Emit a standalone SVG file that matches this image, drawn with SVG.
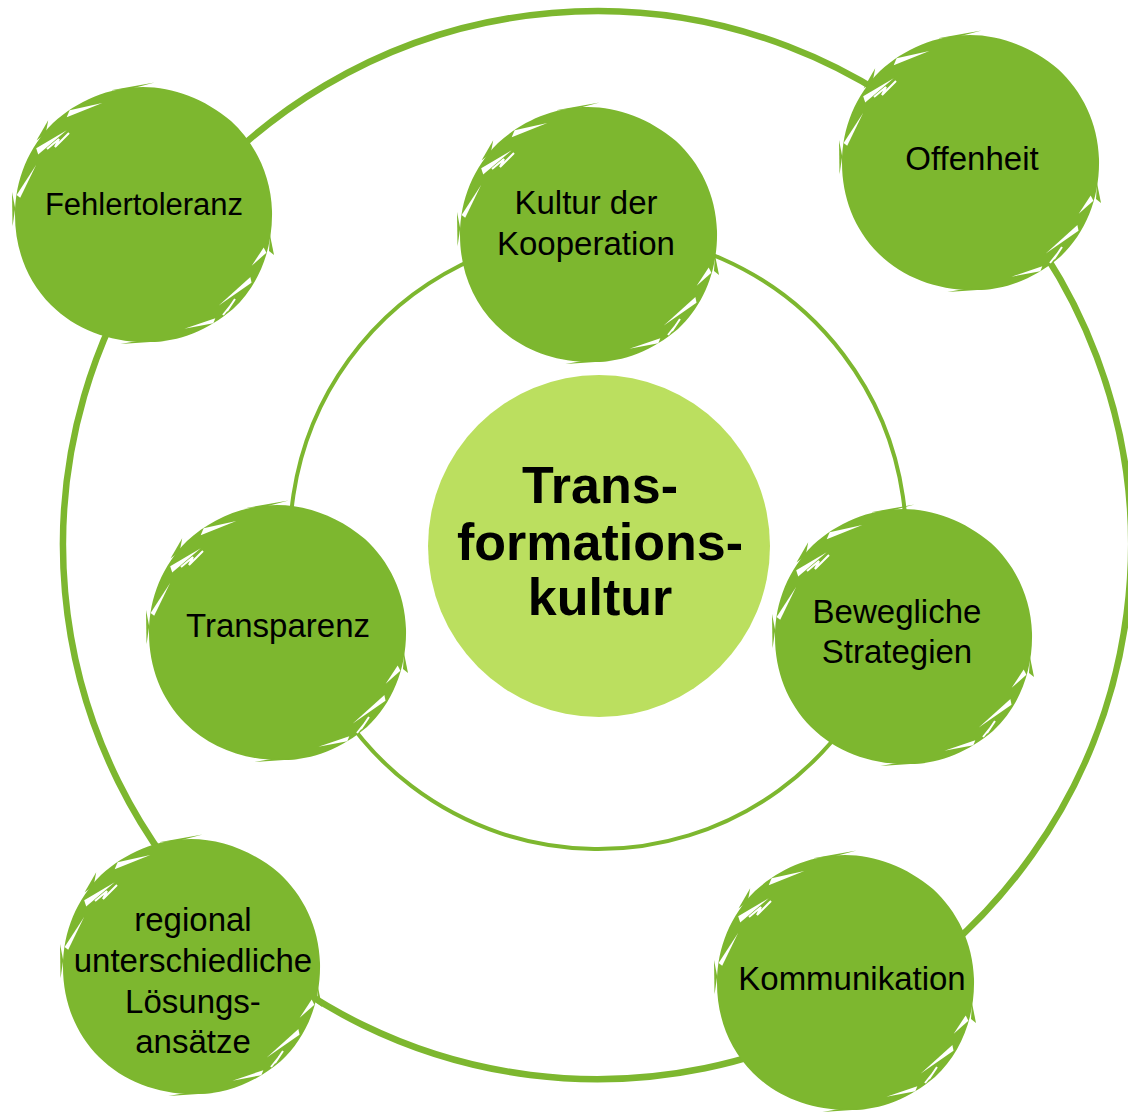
<svg xmlns="http://www.w3.org/2000/svg" xmlns:xlink="http://www.w3.org/1999/xlink" width="1128" height="1115" viewBox="0 0 1128 1115">
<style>
.outer{fill:none;stroke:#7db72f;stroke-width:6.5}
.inner{fill:none;stroke:#7db72f;stroke-width:4}
.lbl{font-family:"Liberation Sans",Arial,sans-serif;font-size:33px;fill:#000;text-anchor:middle}
.core{font-family:"Liberation Sans",Arial,sans-serif;font-size:52px;font-weight:bold;fill:#000;text-anchor:middle}
.g{fill:#7db72f}
.w{fill:#fff}
</style>
<defs>
<g id="blob">
<path class="g" d="M0,-128 C30,-128 62,-116 88,-94 C112,-72 128,-40 129,-4 C130,34 116,70 90,94 C64,116 34,128 2,127 C-34,127 -68,114 -92,90 C-116,66 -128,34 -128,0 C-128,-36 -114,-68 -90,-92 C-66,-114 -34,-128 0,-128 Z"/>
<polygon class="g" points="-130.5,11.4 -131,-23.1 -127.8,-6.7"/>
<polygon class="g" points="-106.5,-74.6 -94.8,-94.8 -97.3,-81.6"/>
<polygon class="g" points="-33.4,-124.6 11.6,-132.5 -11.1,-126.5"/>
<polygon class="g" points="22.2,126 -22.7,129 0,125"/>
<polygon class="g" points="127,20 131,40 126,36"/>
<polygon class="w" points="-122.8,-17.3 -106.9,-49.9 -126.4,-20"/>
<polygon class="w" points="-104.8,-60.5 -76.3,-84.7 -106.8,-66.8"/>
<polygon class="w" points="-76.3,-97.7 -40.7,-111.9 -73.4,-104.8"/>
<polyline points="-96,-66 -84,-76 -88,-68 -74,-82" fill="none" stroke="#fff" stroke-width="2"/>
<polygon class="w" points="107.4,62 75.8,90.4 108.5,67.8"/>
<polygon class="w" points="72.3,103.2 41.4,113.7 70.3,108.2"/>
<polygon class="w" points="120.7,32.4 108.7,50.8 123.4,37.7"/>
<polyline points="92,84 84,96 88,90 80,100" fill="none" stroke="#fff" stroke-width="2"/>
</g>
</defs>
<rect width="1128" height="1115" fill="#fff"/>
<g id="connectors">
<path class="outer" d="M165,231 A534,534 0 0 1 970,163"/>
<path class="outer" d="M970,163 A534,534 0 0 1 860,1010"/>
<path class="outer" d="M860,1010 A534,534 0 0 1 227,930"/>
<path class="outer" d="M227,930 A534,534 0 0 1 165,231"/>
<path class="inner" d="M588,233 A308,308 0 0 1 892,633"/>
<path class="inner" d="M892,633 A308,308 0 0 1 302,626"/>
<path class="inner" d="M302,626 A308,308 0 0 1 588,233"/>
</g>
<g id="center">
<circle cx="599" cy="546" r="171" fill="#bbdf5f"/>
<text class="core" x="600" y="503">Trans-</text>
<text class="core" x="600" y="560">formations-</text>
<text class="core" x="600" y="615">kultur</text>
</g>
<g id="fehlertoleranz">
<use xlink:href="#blob" transform="translate(143,215)"/>
<text class="lbl" x="144" y="215" style="font-size:31px">Fehlertoleranz</text>
</g>
<g id="kooperation">
<use xlink:href="#blob" transform="translate(588,235)"/>
<text class="lbl" x="586" y="214">Kultur der</text>
<text class="lbl" x="586" y="255">Kooperation</text>
</g>
<g id="offenheit">
<use xlink:href="#blob" transform="translate(970,163)"/>
<text class="lbl" x="972" y="170">Offenheit</text>
</g>
<g id="transparenz">
<use xlink:href="#blob" transform="translate(277,633)"/>
<text class="lbl" x="278" y="637">Transparenz</text>
</g>
<g id="strategien">
<use xlink:href="#blob" transform="translate(903,637)"/>
<text class="lbl" x="897" y="623">Bewegliche</text>
<text class="lbl" x="897" y="663">Strategien</text>
</g>
<g id="kommunikation">
<use xlink:href="#blob" transform="translate(845,983)"/>
<text class="lbl" x="852" y="990">Kommunikation</text>
</g>
<g id="regional">
<use xlink:href="#blob" transform="translate(191,967)"/>
<text class="lbl" x="193" y="931">regional</text>
<text class="lbl" x="193" y="972">unterschiedliche</text>
<text class="lbl" x="193" y="1013">Lösungs-</text>
<text class="lbl" x="193" y="1053">ansätze</text>
</g>
</svg>
